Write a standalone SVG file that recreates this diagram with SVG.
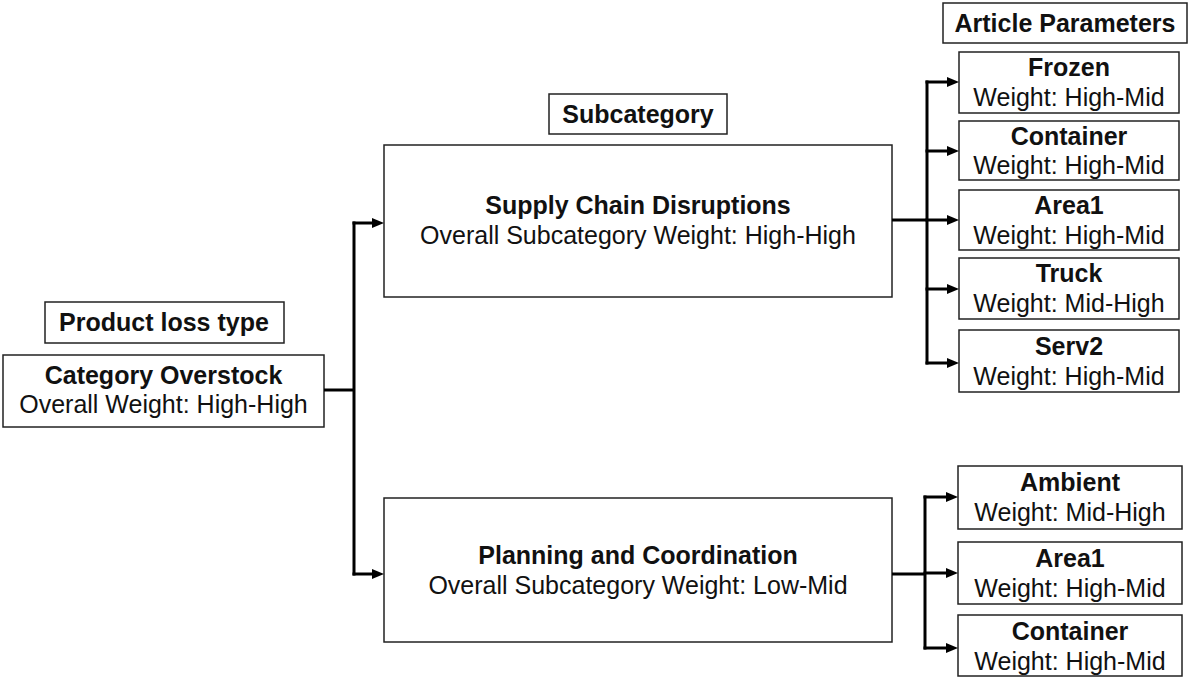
<svg xmlns="http://www.w3.org/2000/svg" width="1192" height="683" viewBox="0 0 1192 683">
  <style>
    .box { fill: #ffffff; stroke: #222222; stroke-width: 1.5; }
    .t { font-family: "Liberation Sans", Arial, sans-serif; font-size: 25px; fill: #111111; text-anchor: middle; }
    .b { font-weight: bold; }
    .wire { fill: none; stroke: #000000; stroke-width: 3; }
  </style>
  <defs>
    <marker id="ah" markerUnits="userSpaceOnUse" markerWidth="12" markerHeight="10" viewBox="0 0 12 10" refX="2" refY="5" orient="auto">
      <path d="M0,0 L12,5 L0,10 z" fill="#000000"/>
    </marker>
  </defs>
  <rect width="1192" height="683" fill="#ffffff"/>

  <!-- column headings -->
  <g id="label-product-loss-type">
    <rect class="box" x="45" y="302" width="239" height="41"/>
    <text class="t b" x="164" y="331">Product loss type</text>
  </g>
  <g id="label-subcategory">
    <rect class="box" x="549" y="94" width="178" height="40"/>
    <text class="t b" x="638" y="123">Subcategory</text>
  </g>
  <g id="label-article-parameters">
    <rect class="box" x="943" y="3" width="244" height="40"/>
    <text class="t b" x="1065" y="32">Article Parameters</text>
  </g>

  <!-- category -->
  <g id="category-overstock">
    <rect class="box" x="3" y="355" width="321" height="72"/>
    <text class="t b" x="163.5" y="384">Category Overstock</text>
    <text class="t" x="163.5" y="413">Overall Weight: High-High</text>
  </g>

  <!-- subcategories -->
  <g id="supply-chain-disruptions">
    <rect class="box" x="384" y="145" width="508" height="152"/>
    <text class="t b" x="638" y="214">Supply Chain Disruptions</text>
    <text class="t" x="638" y="244">Overall Subcategory Weight: High-High</text>
  </g>
  <g id="planning-and-coordination">
    <rect class="box" x="384" y="498" width="508" height="144"/>
    <text class="t b" x="638" y="564">Planning and Coordination</text>
    <text class="t" x="638" y="594">Overall Subcategory Weight: Low-Mid</text>
  </g>

  <!-- article parameters: supply chain -->
  <g id="frozen">
    <rect class="box" x="959" y="52" width="220" height="61"/>
    <text class="t b" x="1069" y="76">Frozen</text>
    <text class="t" x="1069" y="106">Weight: High-Mid</text>
  </g>
  <g id="container-1">
    <rect class="box" x="959" y="121" width="220" height="59"/>
    <text class="t b" x="1069" y="145">Container</text>
    <text class="t" x="1069" y="174">Weight: High-Mid</text>
  </g>
  <g id="area1-1">
    <rect class="box" x="959" y="190" width="220" height="60"/>
    <text class="t b" x="1069" y="214">Area1</text>
    <text class="t" x="1069" y="244">Weight: High-Mid</text>
  </g>
  <g id="truck">
    <rect class="box" x="959" y="258" width="220" height="61"/>
    <text class="t b" x="1069" y="282">Truck</text>
    <text class="t" x="1069" y="312">Weight: Mid-High</text>
  </g>
  <g id="serv2">
    <rect class="box" x="959" y="330" width="220" height="62"/>
    <text class="t b" x="1069" y="355">Serv2</text>
    <text class="t" x="1069" y="385">Weight: High-Mid</text>
  </g>

  <!-- article parameters: planning -->
  <g id="ambient">
    <rect class="box" x="958" y="466" width="224" height="63"/>
    <text class="t b" x="1070" y="491">Ambient</text>
    <text class="t" x="1070" y="521">Weight: Mid-High</text>
  </g>
  <g id="area1-2">
    <rect class="box" x="958" y="542" width="224" height="62"/>
    <text class="t b" x="1070" y="567">Area1</text>
    <text class="t" x="1070" y="597">Weight: High-Mid</text>
  </g>
  <g id="container-2">
    <rect class="box" x="958" y="615" width="224" height="61"/>
    <text class="t b" x="1070" y="640">Container</text>
    <text class="t" x="1070" y="670">Weight: High-Mid</text>
  </g>

  <!-- connectors -->
  <g id="connectors">
    <!-- category to subcategories -->
    <path class="wire" d="M324,390 H354"/>
    <path class="wire" d="M354,221.5 V575.5"/>
    <path class="wire" d="M352.5,223 H374" marker-end="url(#ah)"/>
    <path class="wire" d="M352.5,574 H374" marker-end="url(#ah)"/>

    <!-- supply chain to articles -->
    <path class="wire" d="M892,220 H927"/>
    <path class="wire" d="M927,80.5 V364.5"/>
    <path class="wire" d="M925.5,82 H949" marker-end="url(#ah)"/>
    <path class="wire" d="M925.5,151 H949" marker-end="url(#ah)"/>
    <path class="wire" d="M925.5,220 H949" marker-end="url(#ah)"/>
    <path class="wire" d="M925.5,289 H949" marker-end="url(#ah)"/>
    <path class="wire" d="M925.5,363 H949" marker-end="url(#ah)"/>

    <!-- planning to articles -->
    <path class="wire" d="M892,574 H925"/>
    <path class="wire" d="M925,495.5 V649.5"/>
    <path class="wire" d="M923.5,497 H948" marker-end="url(#ah)"/>
    <path class="wire" d="M923.5,573 H948" marker-end="url(#ah)"/>
    <path class="wire" d="M923.5,648 H948" marker-end="url(#ah)"/>
  </g>
</svg>
